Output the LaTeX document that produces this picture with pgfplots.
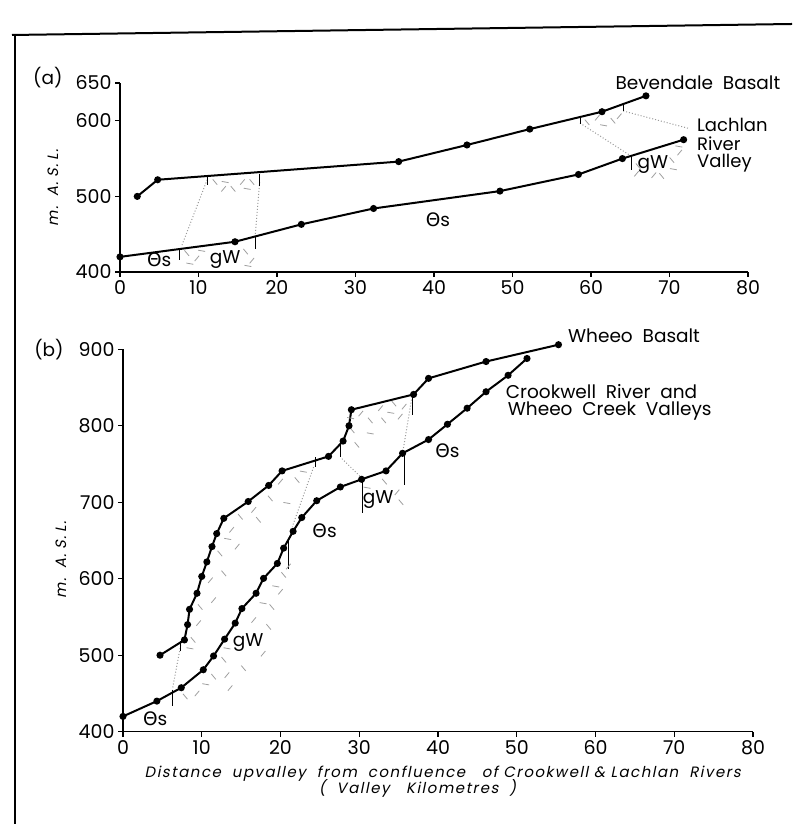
\documentclass[border=0pt]{standalone}
\usepackage{fontspec}
\setmainfont{Poppins}
\newfontfamily\xlfont[FakeSlant=0.2, LetterSpace=10]{Poppins}
\newfontfamily\grk{DejaVu Sans}
\usepackage{pgfplots}
\pgfplotsset{compat=1.18}
\newcommand{\Th}{{\grk Θ}s}
\newcommand{\asl}{m.\hspace{10pt}A.\hspace{4pt}S.\hspace{4pt}L.}
\tikzset{
  ser/.style={black, line width=2pt, mark=*, mark size=2.5pt, mark options={solid}},
  hm/.style={only marks, mark=|, mark size=3.5pt, color=gray!75, mark options={line width=0.8pt, rotate=#1}},
  bd/.style={black, line width=1pt},
  dt/.style={gray!80, dotted, line width=1pt},
  lab/.style={font=\fontsize{18.5}{18.5}\selectfont, inner sep=0pt},
  labs/.style={font=\fontsize{18}{18}\selectfont, inner sep=0pt},
  xl/.style={font=\xlfont\fontsize{15}{15}\selectfont, inner sep=0pt},
}
\pgfplotsset{common/.style={scale only axis, clip=false, xmin=0, xmax=80,
  axis x line*=bottom, axis y line*=left,
  axis line style={-, line width=1.5pt},
  tick align=outside, major tick length=5pt,
  tick style={line width=1.1pt, black},
  xtick={0,10,...,80},
  ticklabel style={font=\fontsize{19}{19}\selectfont},
  /pgf/number format/assume math mode=true}}
\begin{document}
\begin{tikzpicture}[x=1pt,y=1pt]
\path[use as bounding box] (0,0) rectangle (792,824);
\draw[line width=2pt] (15,0) -- (15,789);
\draw[line width=2pt] (12,789) -- (792,800);

% ---------------- panel (a)
\begin{axis}[common, at={(120pt,552pt)}, anchor=south west, width=628pt, height=189pt,
  ymin=400, ymax=650, ytick={400,500,600,650}]
% hatching
\addplot[hm=40] coordinates {(12.1,519) (14.4,510) (16.8,519) (8.5,425) (16,427) (59.5,598) (62.8,600) (66,540) (70.3,548) (69,527)};
\addplot[hm=140] coordinates {(13.2,510) (15.6,519) (9.8,418) (16.8,415) (60.8,604) (63.6,606) (68,528) (71.3,558) (65.8,530)};
\addplot[hm=80] coordinates {(13.4,519) (16.2,510) (8.9,411) (10.4,428) (16.3,408) (61.6,594) (70.5,536) (71.2,566)};
% dotted correlations
\addplot[dt] coordinates {(11.1,522) (7.8,433)};
\addplot[dt] coordinates {(17.8,519) (17.2,444)};
\addplot[dt] coordinates {(58.6,597) (65,554)};
\addplot[dt] coordinates {(64.1,613) (72.4,590)};
% boundary ticks
\addplot[bd] coordinates {(11.1,527) (11.1,515)};
\addplot[bd] coordinates {(17.8,530) (17.8,514)};
\addplot[bd] coordinates {(7.6,431) (7.6,416)};
\addplot[bd] coordinates {(17.2,447) (17.2,430)};
\addplot[bd] coordinates {(58.6,606) (58.6,596)};
\addplot[bd] coordinates {(64.2,623) (64.2,613)};
\addplot[bd] coordinates {(65.2,552) (65.2,535)};
% series
\addplot[ser] coordinates {(2.2,500) (4.8,522) (35.5,546) (44.2,568) (52.2,589) (61.4,612) (67.0,633)};
\addplot[ser] coordinates {(0,420) (14.65,440) (23.1,463) (32.3,484) (48.4,507) (58.4,529) (64.0,550) (71.8,575)};
% labels
\node[lab] at (axis cs:-9.2,656.6) {(a)};
\node[xl, rotate=90] at (axis cs:-8.5,511) {\asl};
\node[lab, anchor=west] at (axis cs:63.1,650) {Bevendale\ \ Basalt};
\node[labs, anchor=west] at (axis cs:73.5,594.4) {Lachlan};
\node[labs, anchor=west] at (axis cs:73.5,569.3) {River};
\node[labs, anchor=west] at (axis cs:73.5,544.2) {Valley};
\node[lab] at (axis cs:40.5,468.8) {\Th};
\node[lab] at (axis cs:5.0,415.9) {\Th};
\node[lab] at (axis cs:13.4,416) {gW};
\node[lab] at (axis cs:67.9,541.5) {gW};
\end{axis}

% ---------------- panel (b)
\begin{axis}[common, at={(123pt,92.3pt)}, anchor=south west, width=630pt, height=382.4pt,
  ymin=400, ymax=900, ytick={400,500,...,900}]
% hatching
\addplot[hm=40] coordinates {(9.8,563) (12.3,633) (14.9,681) (18.7,705) (22.1,729) (12.8,607) (17.2,677) (8.9,520)
  (7.9,446) (11.5,472) (12.8,494) (15.3,483) (18.5,537) (18.9,563) (20.4,605)
  (29.1,794) (31.4,807) (34.4,829) (33.1,807) (29.7,775) (33.2,727) (35.3,700)};
\addplot[hm=140] coordinates {(11.1,598) (13.8,664) (16.6,690) (20,727) (11.5,572) (14.5,642) (9.6,542)
  (9.4,450) (13.2,474) (13.6,457) (16.6,546) (17.8,502) (20,583) (21,616)
  (30.2,816) (32.7,823) (35.7,825) (35.2,812) (34.8,713)};
\addplot[hm=80] coordinates {(22.9,740) (20.8,699) (8.5,509) (13.3,652)
  (17.8,568) (13.2,509) (10.5,462) (19.4,590)
  (31.4,790) (34,817) (31,719) (28.9,810)};
% dotted correlations
\addplot[dt] coordinates {(7.4,517) (6.3,457)};
\addplot[dt] coordinates {(24.2,746) (21.5,668)};
\addplot[dt] coordinates {(27.8,757) (30.4,731)};
\addplot[dt] coordinates {(36.7,838) (35.5,764)};
% boundary ticks
\addplot[bd] coordinates {(7.25,518) (7.25,505)};
\addplot[bd] coordinates {(24.4,759) (24.4,746)};
\addplot[bd] coordinates {(27.6,777) (27.6,759)};
\addplot[bd] coordinates {(36.7,840) (36.7,814)};
\addplot[bd] coordinates {(6.3,455) (6.3,433)};
\addplot[bd] coordinates {(21.0,650) (21.0,613)};
\addplot[bd] coordinates {(30.4,730) (30.4,686)};
\addplot[bd] coordinates {(35.7,764) (35.7,722)};
% series
\addplot[ser] coordinates {(4.7,500) (7.8,520) (8.2,540) (8.45,560) (9.4,581) (10.0,603) (10.65,622) (11.3,642) (11.9,659) (12.8,679) (15.9,701) (18.5,722) (20.2,741) (26.1,760) (27.95,780) (28.7,800) (29.0,821) (36.9,841) (38.8,862) (46.1,884) (55.3,906)};
\addplot[ser] coordinates {(0,420) (4.3,440) (7.4,457.5) (10.2,481) (11.5,499) (12.9,521) (14.25,542) (15.1,561) (16.9,581) (17.85,600.5) (19.6,620) (20.4,640) (21.6,662) (22.7,680) (24.6,702) (27.6,720) (30.3,730) (33.4,741) (35.5,764) (38.8,782) (41.2,802) (43.7,823) (46.1,844.5) (48.9,866) (51.3,888)};
% labels
\node[lab] at (axis cs:-9.4,899) {(b)};
\node[xl, rotate=90] at (axis cs:-7.9,624.4) {\asl};
\node[lab, anchor=west] at (axis cs:56.5,917.3) {Wheeo\ \ Basalt};
\node[lab, anchor=west] at (axis cs:48.6,845.4) {Crookwell\ \ River\ \ and};
\node[lab, anchor=west] at (axis cs:48.85,819.2) {Wheeo\ \ Creek\ \ Valleys};
\node[lab] at (axis cs:41.2,767) {\Th};
\node[lab] at (axis cs:25.6,662.4) {\Th};
\node[lab] at (axis cs:32.4,703) {gW};
\node[lab] at (axis cs:15.9,516) {gW};
\node[lab] at (axis cs:4.1,416.6) {\Th};
\node[xl] at (axis cs:40.6,344.7) {Distance\ \ upvalley\ \ from\ \ confluence\ \ \ of\ Crookwell\ \&\ Lachlan\ \ Rivers};
\node[xl] at (axis cs:37.4,326.4) {(\ \ Valley\ \ \ Kilometres\ \ )};
\end{axis}
\end{tikzpicture}
\end{document}
